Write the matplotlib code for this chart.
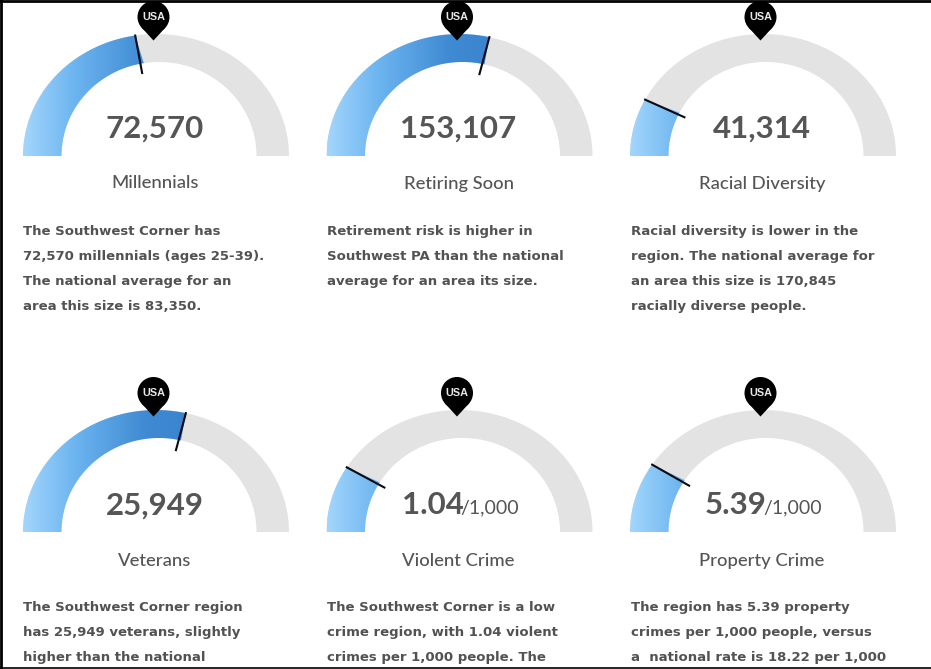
import numpy as np
from matplotlib import pyplot as plt
from matplotlib.colors import LinearSegmentedColormap
from matplotlib.patches import Circle, Polygon

W, H = 931, 669

titles = ["Millennials", "Retiring Soon", "Racial Diversity",
          "Veterans", "Violent Crime", "Property Crime"]
values = ["72,570", "153,107", "41,314", "25,949", "1.04", "5.39"]
suffixes = ["", "", "", "", "/1,000", "/1,000"]
# how far round the half circle the marker sits, degrees from the left end
gauge_degrees = [81, 103, 27.5, 103, 32, 33.5]
captions = [
    ["The Southwest Corner has", "72,570 millennials (ages 25-39).",
     "The national average for an", "area this size is 83,350."],
    ["Retirement risk is higher in", "Southwest PA than the national",
     "average for an area its size."],
    ["Racial diversity is lower in the", "region. The national average for",
     "an area this size is 170,845", "racially diverse people."],
    ["The Southwest Corner region", "has 25,949 veterans, slightly",
     "higher than the national"],
    ["The Southwest Corner is a low", "crime region, with 1.04 violent",
     "crimes per 1,000 people. The"],
    ["The region has 5.39 property", "crimes per 1,000 people, versus",
     "a  national rate is 18.22 per 1,000"],
]

centers_x = [156, 459.5, 763, 156, 459.5, 763]
centers_y = [156, 156, 156, 532, 532, 532]
text_x = [23, 327, 631, 23, 327, 631]

# the screenshot is stretched, so the arcs are ellipses and the hole sits off centre
RX_OUT, RY_OUT = 133, 122
RX_IN, RY_IN = 97.5, 94
IN_SHIFT = 3

blues = LinearSegmentedColormap.from_list(
    "gauge", [(0, "#a3d6fc"), (0.3, "#6db5f0"), (0.72, "#3f8ad2"), (1, "#3a84cf")])


def band(cx, cy, d0, d1):
    # ring section between d0 and d1 degrees, counted from the left end
    t = np.radians(np.linspace(d0, d1, 120))
    outer = np.column_stack([cx - RX_OUT * np.cos(t), cy - RY_OUT * np.sin(t)])
    inner = np.column_stack([cx + IN_SHIFT - RX_IN * np.cos(t), cy - RY_IN * np.sin(t)])
    return np.vstack([outer, inner[::-1]])


def draw_gauge(ax, cx, cy, deg):
    ax.add_patch(Polygon(band(cx, cy, 0, 180), facecolor="#e3e3e3", edgecolor="none", zorder=1))
    arc = Polygon(band(cx, cy, 0, deg), facecolor="none", edgecolor="none", zorder=2)
    ax.add_patch(arc)
    grad = np.linspace(0, 1, 256).reshape(1, -1)
    im = ax.imshow(grad, extent=(cx - RX_OUT, cx - RX_OUT + 170, cy, cy - RY_OUT),
                   cmap=blues, vmin=0, vmax=1, aspect="auto", zorder=2)
    im.set_clip_path(arc)
    a = np.radians(deg)
    ax.plot([cx - (RX_OUT + 1) * np.cos(a), cx - (RX_IN - 10) * np.cos(a)],
            [cy - (RY_OUT + 1) * np.sin(a), cy - (RY_IN - 11) * np.sin(a)],
            color="#0a0a14", lw=1.5, solid_capstyle="butt", zorder=3)
    # USA pin
    px = cx - 2.5
    py = cy - 139
    ax.add_patch(Circle((px, py), 16, color="black", lw=0, zorder=4))
    ax.add_patch(Polygon([(px - 11.5, py + 11), (px + 11.5, py + 11), (px, py + 23.5)],
                         color="black", lw=0, zorder=4))
    ax.text(px, py + 0.5, "USA", color="#e8e8e8", fontsize=7.8, fontweight="bold",
            family="Liberation Sans", ha="center", va="center", zorder=5)


fig = plt.figure(figsize=(W / 100, H / 100), dpi=100)
ax = fig.add_axes([0, 0, 1, 1])

for i in range(6):
    cx, cy = centers_x[i], centers_y[i]
    draw_gauge(ax, cx, cy, gauge_degrees[i])
    row_nudge = 1.5 if i >= 3 else 0

    if suffixes[i]:
        ax.text(cx - 58, cy - 28 + row_nudge / 2, values[i], fontsize=22.5, fontweight="bold",
                family="Lato", color="#555555", ha="left", va="center")
        ax.text(cx + 0.5, cy - 24, suffixes[i], fontsize=14, family="Lato",
                color="#555555", ha="left", va="center")
    else:
        ax.text(cx - 1, cy - 27.5 + row_nudge / 2, values[i], fontsize=22.5, fontweight="bold",
                family="Lato", color="#555555", ha="center", va="center")

    ax.text(cx - 1, cy + 27.5 + row_nudge, titles[i], fontsize=13.3, fontweight="medium",
            family="Lato", color="#555555", ha="center", va="center")

    for j, line in enumerate(captions[i]):
        ax.text(text_x[i], cy + 75.5 + j * 25, line, fontsize=9.5, fontweight="bold",
                family="DejaVu Sans", color="#525252", ha="left", va="center")

# screenshot frame
ax.plot([0, W], [1, 1], color="black", lw=2, zorder=6)
ax.plot([1, 1], [0, 667], color="black", lw=2, zorder=6)
ax.plot([0, W], [667.5, 667.5], color="black", lw=1.2, zorder=6)

ax.set_xlim(0, W)
ax.set_ylim(H, 0)
ax.axis("off")

fig.savefig("out.png", dpi=100)
